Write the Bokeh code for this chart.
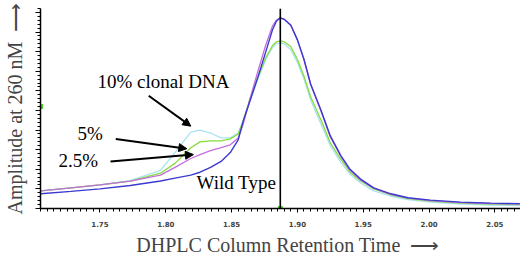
from bokeh.plotting import figure
from bokeh.models import (Range1d, Span, Arrow, NormalHead, Label, SingleIntervalTicker,
                          PrintfTickFormatter, CustomJSTickFormatter)
from bokeh.embed import file_html
from bokeh.resources import INLINE

# Retention time (min)
time = [1.705, 1.728, 1.750, 1.773, 1.796, 1.807, 1.819, 1.826, 1.834, 1.842,
        1.849, 1.855, 1.859, 1.864, 1.870, 1.876, 1.881, 1.884, 1.887, 1.890,
        1.895, 1.900, 1.905, 1.910, 1.918, 1.925, 1.933, 1.940, 1.948, 1.958,
        1.971, 1.984, 2.001, 2.024, 2.047, 2.069]

# Amplitude at 260 nm (arbitrary units)
wild_type = [7.5, 8.75, 10, 11.75, 14, 15.5, 17, 18.5, 21, 24,
             28.5, 35, 45, 55, 67, 80, 91, 95.5, 97.25, 96.5,
             93.5, 86, 76, 63.5, 50, 37, 27, 20, 15, 10.5,
             7.5, 5.5, 4.25, 3.25, 2.75, 2.5]
clonal_2_5 = [9, 10.5, 12, 14, 17, 21, 25.5, 27.5, 29.5, 31,
              32.5, 36, 43.5, 56, 70, 83.5, 93, 96, 97.25, 96.5,
              93.5, 86, 76, 63.5, 49.5, 36.5, 26.5, 19.5, 14.5, 10.25,
              7.25, 5.25, 4, 3, 2.5, 2.25]
clonal_5 = [9, 10.5, 12, 14, 18, 23, 31, 34, 34.5, 34.5,
            35.5, 38, 45, 56, 67, 77, 83, 85, 85.5, 85,
            82.5, 76, 67.5, 57, 45, 33.5, 25, 18.5, 14, 10,
            7, 5, 3.75, 2.75, 2.25, 2]
clonal_10 = [9, 10.5, 12, 14.25, 19.5, 28.5, 39, 40, 38.5, 36,
             36, 38.5, 45, 55, 66, 76, 82, 84, 84.5, 84,
             81, 74.5, 66, 55.5, 43, 32, 23.5, 17.5, 13, 9,
             6.25, 4.5, 3.25, 2.25, 1.75, 1.5]

peak_time = 1.887
cursor_level = 52
x_start, x_end = 1.7048, 2.0695

p = figure(width=520, height=258, output_backend="svg", toolbar_location=None,
           x_range=Range1d(x_start, x_end), y_range=Range1d(0, 102),
           min_border_left=40, min_border_right=0, min_border_top=8, min_border_bottom=46)
p.outline_line_color = None
p.xgrid.visible = False
p.ygrid.visible = False
p.background_fill_color = "white"

p.line(time, clonal_10, line_color="#a8e4f0", line_width=1.3)
p.line(time, clonal_5, line_color="#86dc3c", line_width=1.3)
p.line(time, clonal_2_5, line_color="#c46ede", line_width=1.3)
p.line(time, wild_type, line_color="#3a3ad0", line_width=1.4)

p.add_layout(Span(location=peak_time, dimension="height", line_color="black", line_width=1.6))
p.scatter([peak_time], [0], marker="square", size=4, color="#44cc22")
p.scatter([x_start], [cursor_level], marker="square", size=4, color="#44cc22")

serif = "Liberation Serif"
def lab(x, y, t):
    p.add_layout(Label(x=x, y=y, text=t, text_font=serif, text_font_size="19px",
                       text_align="left", text_baseline="middle", text_color="black"))

lab(1.7481, 65, "10% clonal DNA")
lab(1.7329, 38, "5%")
lab(1.7185, 24.5, "2.5%")
lab(1.8233, 13.5, "Wild Type")

for (x0, y0, x1, y1) in [(1.787, 57.5, 1.819, 42), (1.762, 35.5, 1.816, 30.5), (1.758, 24, 1.821, 27.5)]:
    p.add_layout(Arrow(x_start=x0, y_start=y0, x_end=x1, y_end=y1, line_width=2, line_color="black",
                       end=NormalHead(size=8, fill_color="black", line_color="black")))

nb = "\u00a0"
arrow_txt = "\u27f6"

xa = p.xaxis[0]
xa.ticker = SingleIntervalTicker(interval=0.05, num_minor_ticks=10)
xa.formatter = PrintfTickFormatter(format="%.2f")
xa.major_label_text_font = "DejaVu Sans"
xa.major_label_text_font_style = "bold"
xa.major_label_text_font_size = "7px"
xa.major_tick_in = 0
xa.major_tick_out = 4
xa.minor_tick_in = 0
xa.minor_tick_out = 3
xa.major_label_standoff = 8
xa.axis_line_width = 1.5
xa.axis_label = nb * 3 + "DHPLC Column Retention Time" + nb * 2 + arrow_txt
xa.axis_label_text_font = serif
xa.axis_label_text_font_style = "normal"
xa.axis_label_text_font_size = "20px"
xa.axis_label_standoff = 4

ya = p.yaxis[0]
ya.ticker = SingleIntervalTicker(interval=10, num_minor_ticks=5)
ya.formatter = CustomJSTickFormatter(code="return ''")
ya.major_label_standoff = 0
ya.major_tick_in = 0
ya.major_tick_out = 5
ya.minor_tick_in = 0
ya.minor_tick_out = 3
ya.axis_line_width = 1.5
ya.axis_label = "Amplitude at 260 nM" + nb * 2 + arrow_txt
ya.axis_label_text_font = serif
ya.axis_label_text_font_style = "normal"
ya.axis_label_text_font_size = "20px"
ya.axis_label_standoff = 10

open("out.html", "w").write(file_html(p, INLINE))
